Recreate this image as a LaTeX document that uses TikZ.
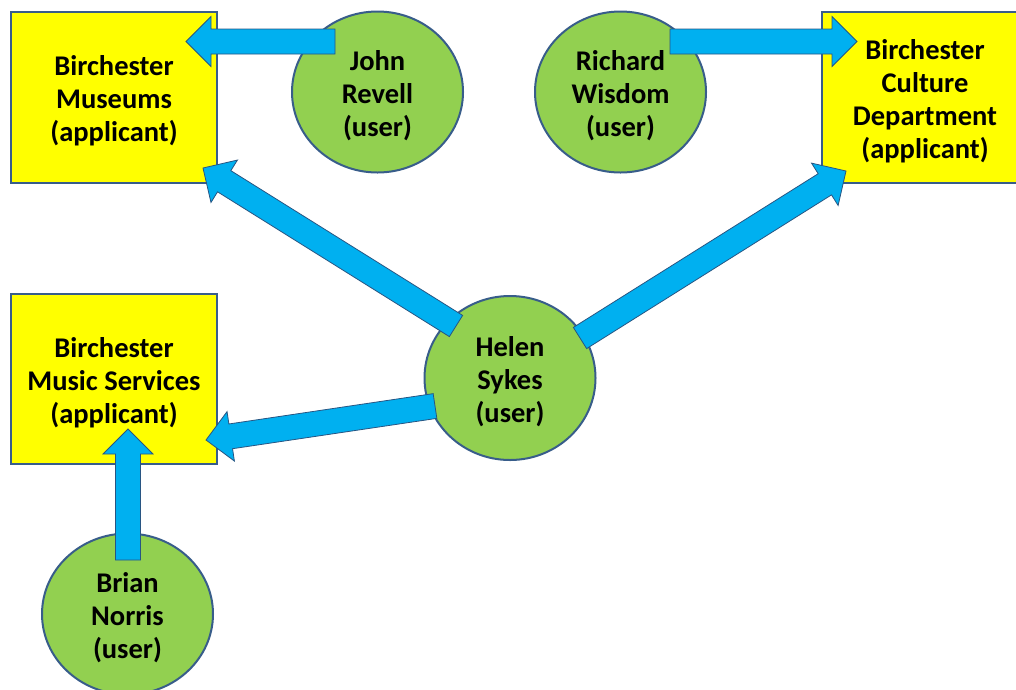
\documentclass[tikz,border=0pt]{standalone}
\usepackage{fontspec}
\setmainfont{Carlito}
\usetikzlibrary{calc,shapes.geometric}
\definecolor{boxyellow}{RGB}{255,255,0}
\definecolor{edgeblue}{RGB}{56,93,138}
\definecolor{usergreen}{RGB}{146,208,80}
\definecolor{arrowcyan}{RGB}{0,176,240}
\definecolor{arrowedge}{RGB}{40,85,130}
\newcommand\blockarrow[2]{%
  \coordinate (hb) at ($(#2)!25pt!(#1)$);
  \draw[fatarrow] ($(#1)!12.5pt!90:(#2)$) -- ($(hb)!12.5pt!-90:(#1)$) -- ($(hb)!25pt!-90:(#1)$) -- (#2)
    -- ($(hb)!25pt!90:(#1)$) -- ($(hb)!12.5pt!90:(#1)$) -- ($(#1)!12.5pt!-90:(#2)$) -- cycle;}
\begin{document}
\begin{tikzpicture}[x=1pt,y=-1pt,
  lbl/.style={align=center,font=\fontsize{28.5}{33}\selectfont\bfseries,text=black,inner sep=0pt,yshift=-3.5pt},
  appbox/.style={draw=edgeblue,line width=2pt,fill=boxyellow,minimum width=206pt,minimum height=171pt,inner sep=0pt},
  usercirc/.style={ellipse,draw=edgeblue,line width=2pt,fill=usergreen,minimum width=171pt,minimum height=161pt,inner sep=0pt},
  fatarrow/.style={fill=arrowcyan,draw=arrowedge,line width=0.8pt,line join=miter}]
\useasboundingbox (0,0) rectangle (1016,689);
\node[appbox,label={[lbl]center:{Birchester\\Museums\\(applicant)}}] (museums) at (114,97.5) {};
\node[appbox,label={[lbl]center:{Birchester\\Culture\\Department\\(applicant)}}] (culture) at (925,97.5) {};
\node[appbox,minimum height=170pt,label={[lbl]center:{Birchester\\Music Services\\(applicant)}}] (music) at (114,379) {};
\node[usercirc,label={[lbl]center:{John\\Revell\\(user)}}] (john) at (377.5,92) {};
\node[usercirc,label={[lbl]center:{Richard\\Wisdom\\(user)}}] (richard) at (620.5,92) {};
\node[usercirc,minimum height=164pt,label={[lbl]center:{Helen\\Sykes\\(user)}}] (helen) at (510,378) {};
\node[usercirc,label={[lbl]center:{Brian\\Norris\\(user)}}] (brian) at (127.5,614) {};
% arrow ends
\coordinate (johnT) at (335,41.5);
\coordinate (museumsJ) at (186,41.5);
\coordinate (richardT) at (670,41.5);
\coordinate (cultureR) at (857,41.5);
\coordinate (helenM) at (456,326);
\coordinate (museumsH) at (203,168);
\coordinate (helenC) at (580,338);
\coordinate (cultureH) at (846,171);
\coordinate (helenS) at (435,406);
\coordinate (musicH) at (206,440);
\coordinate (brianT) at (128,560);
\coordinate (musicB) at (128,429);
\blockarrow{johnT}{museumsJ}
\blockarrow{richardT}{cultureR}
\blockarrow{helenM}{museumsH}
\blockarrow{helenC}{cultureH}
\blockarrow{helenS}{musicH}
\blockarrow{brianT}{musicB}
\end{tikzpicture}
\end{document}
